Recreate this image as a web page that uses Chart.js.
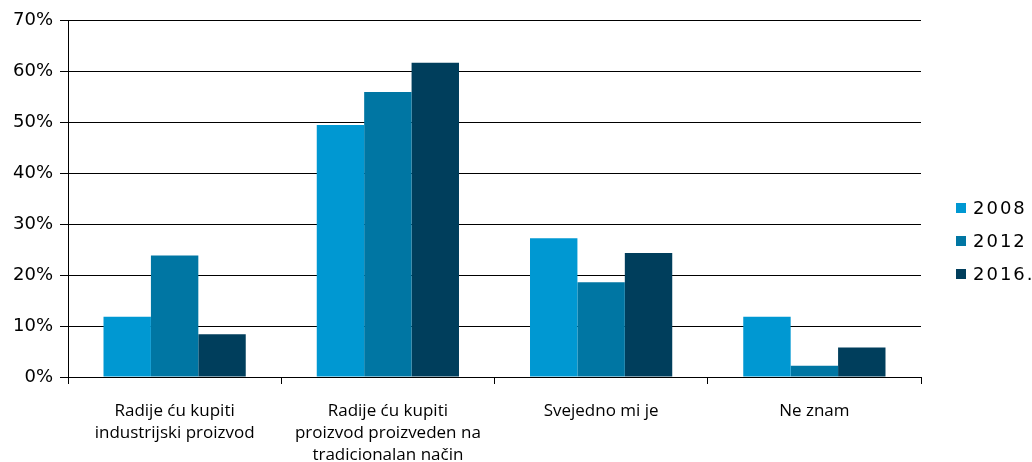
<!DOCTYPE html>
<html>
<head>
<meta charset="utf-8">
<script src="https://cdn.jsdelivr.net/npm/chart.js@4/dist/chart.umd.min.js"></script>
<style>
html,body{margin:0;padding:0;background:#fff;}
#wrap{width:1032px;height:462px;position:relative;}
</style>
</head>
<body>
<div id="wrap"><canvas id="c" width="1032" height="462"></canvas></div>
<script>
const categories = [
  ["Radije ću kupiti", "industrijski proizvod"],
  ["Radije ću kupiti", "proizvod proizveden na", "tradicionalan način"],
  ["Svejedno mi je"],
  ["Ne znam"]
];
const seriesNames = ["2008", "2012", "2016."];
const values2008 = [11.8, 49.4, 27.2, 11.8];
const values2012 = [23.8, 55.9, 18.6, 2.2];
const values2016 = [8.4, 61.6, 24.3, 5.8];
const colors = ["#0098D2", "#0076A3", "#003E5C"];
const yTicks = [0, 10, 20, 30, 40, 50, 60, 70];

const legendPlugin = {
  id: 'customLegend',
  afterDraw(chart) {
    const ctx = chart.ctx;
    ctx.save();
    ctx.font = '18px "DejaVu Sans", Verdana, sans-serif';
    ctx.textBaseline = 'middle';
    ctx.textAlign = 'left';
    try { ctx.letterSpacing = '2px'; } catch (e) {}
    chart.data.datasets.forEach((ds, i) => {
      const cy = 208 + i * 33;
      ctx.fillStyle = ds.backgroundColor;
      ctx.fillRect(956, cy - 5, 10, 10);
      ctx.fillStyle = '#000';
      ctx.fillText(ds.label, 973, cy + 1);
    });
    ctx.restore();
  }
};

new Chart(document.getElementById('c'), {
  type: 'bar',
  data: {
    labels: categories,
    datasets: [
      { label: seriesNames[0], data: values2008, backgroundColor: colors[0] },
      { label: seriesNames[1], data: values2012, backgroundColor: colors[1] },
      { label: seriesNames[2], data: values2016, backgroundColor: colors[2] }
    ]
  },
  options: {
    responsive: false,
    animation: false,
    devicePixelRatio: 1,
    layout: { padding: { left: 0, right: 111, top: 20, bottom: 0 } },
    datasets: { bar: { categoryPercentage: 0.667, barPercentage: 1.0 } },
    plugins: { legend: { display: false }, tooltip: { enabled: false } },
    scales: {
      x: {
        afterFit(scale) { scale.height = 85; },
        grid: { display: true, drawOnChartArea: false, drawTicks: true, tickLength: 7, color: '#000', offset: true },
        border: { color: '#000', width: 1 },
        ticks: {
          color: '#000',
          padding: 16,
          maxRotation: 0,
          autoSkip: false,
          font: { family: '"Open Sans", sans-serif', size: 17, lineHeight: 22 / 17 }
        }
      },
      y: {
        min: 0,
        max: 70,
        afterFit(scale) { scale.width = 68; },
        afterBuildTicks(scale) { scale.ticks = yTicks.map(v => ({ value: v })); },
        grid: { color: '#000', lineWidth: 1, drawTicks: true, tickLength: 8 },
        border: { color: '#000', width: 1 },
        ticks: {
          color: '#000',
          padding: 7,
          font: { family: '"DejaVu Sans", Verdana, sans-serif', size: 18 },
          callback: v => v + '%'
        }
      }
    }
  },
  plugins: [legendPlugin]
});
</script>
</body>
</html>
